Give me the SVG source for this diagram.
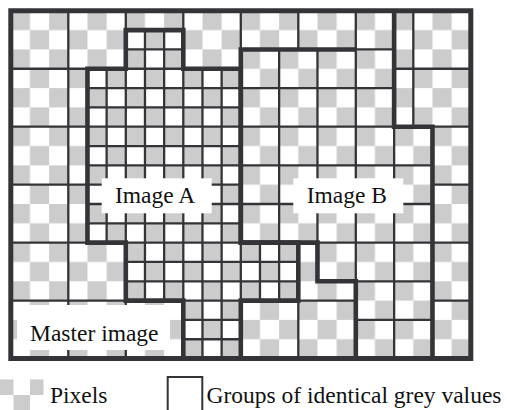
<svg xmlns="http://www.w3.org/2000/svg" width="507" height="410" viewBox="0 0 507 410">
  <style>
    .thin { fill: none; stroke: #343438; stroke-width: 2.3; vector-effect: non-scaling-stroke; }
    .thick { fill: none; stroke: #343438; stroke-width: 4.6; stroke-linejoin: miter; vector-effect: non-scaling-stroke; }
    .frame { fill: none; stroke: #343438; stroke-width: 5; vector-effect: non-scaling-stroke; }
    .label-box { fill: #ffffff; }
    .label { font-family: "Liberation Serif", "Times New Roman", serif; font-size: 23.5px; fill: #111111; }
    .px { fill: #cccccc; }
  </style>
  <defs>
    <!-- checkerboard of grey/white pixels, one grid unit per pixel -->
    <pattern id="checker" patternUnits="userSpaceOnUse" x="0" y="0" width="2" height="2">
      <rect x="0" y="0" width="2" height="2" fill="#ffffff"/>
      <rect x="0" y="0" width="1" height="1" fill="#cccccc"/>
      <rect x="1" y="1" width="1" height="1" fill="#cccccc"/>
    </pattern>
    <clipPath id="clipA" clipPathUnits="userSpaceOnUse">
      <path d="M4 3H6V1H9V3H12V12H15V15H12V18H9V15H6V12H4Z"/>
    </clipPath>
    <clipPath id="clipB" clipPathUnits="userSpaceOnUse">
      <path d="M12 2H20V6H22V18H18V14H16V12H12Z"/>
    </clipPath>
  </defs>

  <rect width="507" height="410" fill="#ffffff"/>

  <!-- pixel grid: 24 x 18 pixels -->
  <g transform="translate(10.8 10.8) scale(19.1667 19.32)">
    <g id="master">
      <rect x="0" y="0" width="24" height="18" fill="url(#checker)"/>
      <!-- 3x3 groups of the master image -->
      <path class="thin" d="M3 0V18M6 0V18M9 0V18M12 0V18M15 0V18M18 0V18M21 0V18M0 3H24M0 6H24M0 9H24M0 12H24M0 15H24"/>
    </g>

    <g id="imageA">
      <path d="M4 3H6V1H9V3H12V12H15V15H12V18H9V15H6V12H4Z" fill="url(#checker)"/>
      <!-- single-pixel groups -->
      <path class="thin" clip-path="url(#clipA)" d="M5 0V18M6 0V18M7 0V18M8 0V18M9 0V18M10 0V18M11 0V18M12 0V18M13 0V18M14 0V18M0 2H24M0 3H24M0 4H24M0 5H24M0 6H24M0 7H24M0 8H24M0 9H24M0 10H24M0 11H24M0 12H24M0 13H24M0 14H24M0 15H24M0 16H24M0 17H24"/>
    </g>

    <g id="imageB">
      <path d="M12 2H20V6H22V18H18V14H16V12H12Z" fill="url(#checker)"/>
      <!-- 2x2 groups -->
      <path class="thin" clip-path="url(#clipB)" d="M14 0V18M16 0V18M18 0V18M20 0V18M0 4H24M0 6H24M0 8H24M0 10H24M0 12H24M0 14H24M0 16H24"/>
      <path class="thin" d="M18 2H20"/>
    </g>

    <!-- outlines of the two images -->
    <path id="outlineA" class="thick" d="M4 3H6V1H9V3H12V12H15V15H12V18H9V15H6V12H4Z"/>
    <path id="outlineB" class="thick" d="M18 2H12V12H16V14H18V18M22 18V6H20V0"/>

    <rect class="frame" x="0" y="0" width="24" height="18"/>
  </g>

  <!-- labels -->
  <g id="labelA">
    <rect class="label-box" x="101.7" y="178.3" width="110" height="35"/>
    <text class="label" x="115" y="202.5">Image A</text>
  </g>
  <g id="labelB">
    <rect class="label-box" x="293.3" y="178.3" width="110" height="35"/>
    <text class="label" x="306.7" y="202.5">Image B</text>
  </g>
  <g id="labelMaster">
    <rect class="label-box" x="17" y="305" width="153" height="45"/>
    <text class="label" x="30" y="341">Master image</text>
  </g>

  <!-- legend -->
  <g id="legendPixels">
    <rect class="px" x="0" y="379.5" width="13.5" height="15.5"/>
    <rect class="px" x="13.5" y="395" width="16.5" height="15"/>
    <rect class="px" x="30" y="379.5" width="13.5" height="15.5"/>
    <text class="label" x="50" y="403">Pixels</text>
  </g>
  <g id="legendGroups">
    <rect x="167.7" y="377" width="34.6" height="40" fill="#ffffff" stroke="#343438" stroke-width="2"/>
    <text class="label" x="206.5" y="403">Groups of identical grey values</text>
  </g>
</svg>
